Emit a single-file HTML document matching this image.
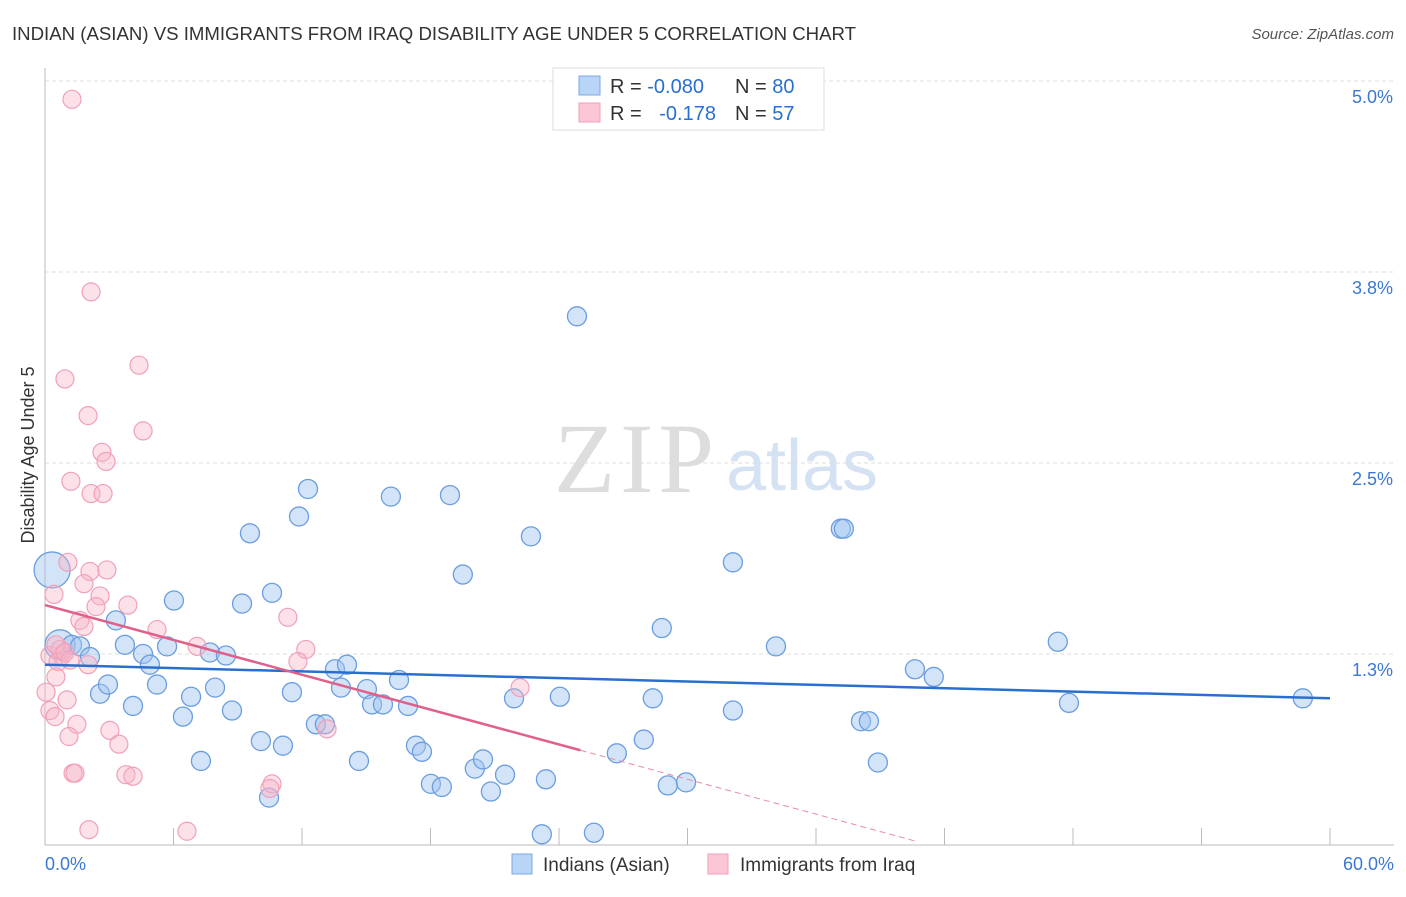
<!DOCTYPE html>
<html><head><meta charset="utf-8"><style>
body{margin:0;background:#fff;font-family:"Liberation Sans",sans-serif}
svg text{font-family:"Liberation Sans",sans-serif}
</style></head><body>
<svg id="c" width="1406" height="892" xmlns="http://www.w3.org/2000/svg">
<text x="12" y="40" font-size="18" fill="#333" textLength="844" lengthAdjust="spacingAndGlyphs">INDIAN (ASIAN) VS IMMIGRANTS FROM IRAQ DISABILITY AGE UNDER 5 CORRELATION CHART</text>
<text x="1394" y="39" font-size="15" fill="#555" font-style="italic" text-anchor="end">Source: ZipAtlas.com</text>
<text x="634" y="492" font-size="100" fill="#ddd" text-anchor="middle" textLength="160" font-family="Liberation Serif" style="font-family:'Liberation Serif',serif">ZIP</text>
<text x="802" y="490" font-size="72" fill="#d4e2f4" text-anchor="middle">atlas</text>
<text x="34" y="455" font-size="18" fill="#333" text-anchor="middle" transform="rotate(-90 34 455)">Disability Age Under 5</text>
<g id="grid"></g><g id="pts"></g><g id="lines"></g>
<g>
<rect x="553" y="68" width="271" height="62" fill="#fff" stroke="#ddd"/>
<rect x="579" y="76" width="21" height="19" fill="#b8d4f6" stroke="#7aa8e4"/>
<rect x="579" y="103" width="21" height="19" fill="#fbc6d6" stroke="#f0a0b8"/>
<text x="610" y="93" font-size="20" fill="#333">R = <tspan fill="#2a6fd0">-0.080</tspan></text>
<text x="735" y="93" font-size="20" fill="#333">N = <tspan fill="#2a6fd0">80</tspan></text>
<text x="610" y="120" font-size="20" fill="#333">R = <tspan fill="#2a6fd0" dx="12">-0.178</tspan></text>
<text x="735" y="120" font-size="20" fill="#333">N = <tspan fill="#2a6fd0">57</tspan></text>
</g>
<g>
<rect x="512" y="854" width="20" height="20" fill="#b8d4f6" stroke="#7aa8e4"/>
<text x="543" y="871" font-size="19" fill="#333">Indians (Asian)</text>
<rect x="708" y="854" width="20" height="20" fill="#fbc6d6" stroke="#f0a0b8"/>
<text x="740" y="871" font-size="19" fill="#333">Immigrants from Iraq</text>
</g>
</svg>
<script>
const yTicks=[1.25,2.5,3.75,5.0];
const yTickLabels=["1.3%","2.5%","3.8%","5.0%"];
const xTickVals=[0,6,12,18,24,30,36,42,48,54,60];
const blueX=[.33,.70,1.26,1.63,2.10,2.57,2.94,3.31,3.73,4.11,4.58,4.90,5.23,5.70,6.02,6.44,6.82,7.28,7.70,7.94,8.45,8.73,9.20,9.57,10.08,10.46,10.60,11.11,11.53,11.86,12.28,12.65,13.07,13.54,13.82,14.10,14.66,15.03,15.27,15.78,16.15,16.53,16.95,17.32,17.60,18.02,18.53,18.91,19.51,20.07,20.45,20.82,21.48,21.90,22.69,23.20,23.39,24.04,24.84,25.63,26.70,27.96,28.38,28.80,29.08,29.93,32.12,32.12,34.13,37.16,37.30,38.10,38.47,38.89,40.62,41.50,47.29,47.81,58.73];
const blueY=[1.80,1.31,1.31,1.30,1.23,.99,1.05,1.47,1.31,.91,1.25,1.18,1.05,1.30,1.60,.84,.97,.55,1.26,1.03,1.24,.88,1.58,2.04,.68,.31,1.65,.65,1.00,2.15,2.33,.79,.79,1.15,1.03,1.18,.55,1.02,.92,.92,2.28,1.08,.91,.65,.61,.40,.38,2.29,1.77,.50,.56,.35,.46,.96,2.02,.07,.43,.97,3.46,.08,.60,.69,.96,1.42,.39,.41,.88,1.85,1.30,2.07,2.07,.81,.81,.54,1.15,1.10,1.33,.93,.96];
const pinkX=[1.26,2.15,4.39,.93,2.01,4.58,2.66,2.85,1.21,2.15,2.71,1.07,2.10,2.89,.42,1.82,2.57,2.38,3.87,11.34,1.63,1.82,5.23,7.10,12.18,.23,.79,.61,2.01,11.81,22.18,.51,.05,1.03,.23,.47,1.49,3.03,1.12,3.45,13.17,1.31,1.40,3.78,4.11,10.60,10.50,2.05,6.63,.70,.51,.93,1.17];
const pinkY=[4.88,3.62,3.14,3.05,2.81,2.71,2.57,2.51,2.38,2.30,2.30,1.85,1.79,1.80,1.64,1.71,1.63,1.56,1.57,1.49,1.47,1.43,1.41,1.30,1.28,1.24,1.24,1.20,1.18,1.20,1.03,1.10,1.00,.95,.88,.84,.79,.75,.71,.66,.76,.47,.47,.46,.45,.40,.37,.10,.09,1.28,1.31,1.26,1.21];
const blueTrend=[1.18,0.96];
const pinkTrend=[1.57,-0.038];
const X=v=>45+v*(1285/60), Y=v=>845-v*(191/1.25);
const NS="http://www.w3.org/2000/svg";
function mk(t,a,p){const e=document.createElementNS(NS,t);for(const k in a)e.setAttribute(k,a[k]);p.appendChild(e);return e;}
const grid=document.getElementById('grid');
yTicks.forEach((v,i)=>{
 const l=mk('line',{x1:45,x2:1394,y1:Y(v),y2:Y(v),stroke:'#ddd','stroke-dasharray':'4,3'},grid);
 
 
 const t=mk('text',{x:1393,y:Y(v)+22,'font-size':18,fill:'#3a78d4','text-anchor':'end'},grid);
 t.textContent=yTickLabels[i];
 
 
});
const ax=mk('line',{x1:45,x2:45,y1:68,y2:845,stroke:'#bbb'},grid);


const bx=mk('line',{x1:45,x2:1394,y1:845,y2:845,stroke:'#bbb'},grid);


xTickVals.forEach(v=>{const t=mk('line',{x1:X(v),x2:X(v),y1:828,y2:845,stroke:'#bbb'},grid);
 
 });
const xl0=mk('text',{x:45,y:870,'font-size':18,fill:'#3a78d4'},grid);xl0.textContent='0.0%';


const xl1=mk('text',{x:1394,y:870,'font-size':18,fill:'#3a78d4','text-anchor':'end'},grid);xl1.textContent='60.0%';


const pts=document.getElementById('pts');
blueX.forEach((x,i)=>{const r=i===0?18:(i===1?15:9.5);
 const c=mk('circle',{cx:X(x),cy:Y(blueY[i]),r:r,fill:'rgba(160,196,240,0.45)',stroke:'#6a9ee0','stroke-width':1.3},pts);
 
 });
pinkX.forEach((x,i)=>{
 const c=mk('circle',{cx:X(x),cy:Y(pinkY[i]),r:9,fill:'rgba(248,180,200,0.4)',stroke:'#f0a0b8','stroke-width':1.2},pts);
 
 });
const lines=document.getElementById('lines');
const bl=mk('line',{x1:X(0),y1:Y(blueTrend[0]),x2:X(60),y2:Y(blueTrend[1]),stroke:'#2a6fd0','stroke-width':2.5},lines);


const pl=mk('line',{x1:X(0),y1:Y(pinkTrend[0]),x2:X(25),y2:Y(pinkTrend[0]+pinkTrend[1]*25),stroke:'#e0608a','stroke-width':2.5},lines);


const pd=mk('line',{x1:X(25),y1:Y(pinkTrend[0]+pinkTrend[1]*25),x2:X(40.6),y2:Y(pinkTrend[0]+pinkTrend[1]*40.6),stroke:'#e88aa8','stroke-width':1,'stroke-dasharray':'6,4'},lines);


</script>
</body></html>
